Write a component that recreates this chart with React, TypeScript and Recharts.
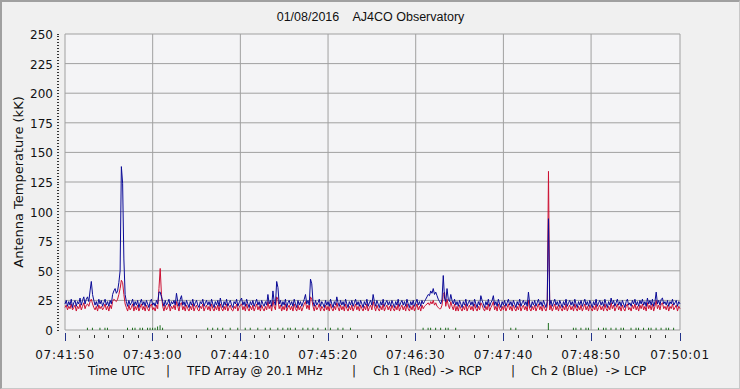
import React from 'react';
import { ComposedChart, Line, Bar, XAxis, YAxis, CartesianGrid } from 'recharts';

// one sample per second from 07:41:50 UTC (t = seconds)
// Ch 1 (Red) -> RCP, kK
const ch1Red = [
  19, 21, 17, 20, 18, 22, 17, 19, 21, 16, 20, 18, 22, 17, 20, 23, 18, 21, 22, 20,
  24, 26, 22, 19, 17, 20, 16, 21, 18, 20, 17, 19, 22, 17, 20, 16, 21, 18, 24, 26,
  25, 24, 26, 30, 35, 42, 40, 30, 22, 19, 16, 21, 17, 19, 22, 16, 20, 17, 21, 16,
  19, 22, 17, 20, 16, 21, 18, 16, 20, 22, 17, 19, 16, 21, 18, 35, 52, 30, 20, 16,
  21, 17, 19, 22, 16, 20, 18, 21, 17, 24, 20, 16, 22, 23, 17, 20, 16, 21, 18, 16,
  20, 17, 22, 16, 19, 21, 17, 16, 20, 18, 22, 16, 19, 21, 17, 20, 16, 22, 18, 16,
  20, 17, 21, 16, 22, 18, 16, 20, 17, 22, 16, 19, 21, 17, 16, 20, 18, 22, 16, 19,
  21, 22, 17, 20, 16, 22, 18, 16, 20, 17, 21, 16, 19, 22, 17, 20, 16, 21, 18, 16,
  20, 17, 24, 18, 21, 16, 25, 20, 17, 28, 26, 18, 21, 16, 20, 17, 22, 16, 19, 21,
  17, 20, 16, 22, 18, 16, 21, 17, 20, 16, 19, 22, 24, 18, 21, 17, 28, 26, 20, 16,
  21, 17, 19, 22, 16, 20, 18, 16, 21, 17, 20, 16, 22, 18, 16, 20, 17, 23, 19, 16,
  21, 17, 20, 16, 22, 18, 16, 20, 17, 21, 16, 19, 22, 17, 20, 16, 21, 18, 16, 20,
  17, 22, 16, 19, 21, 17, 24, 20, 16, 21, 18, 16, 20, 17, 22, 16, 19, 21, 17, 20,
  16, 21, 18, 16, 20, 17, 22, 16, 19, 21, 17, 20, 16, 22, 18, 16, 20, 17, 21, 16,
  19, 22, 17, 20, 16, 21, 18, 20, 21, 22, 23, 21, 24, 22, 25, 21, 23, 20, 19, 18,
  18, 21, 30, 32, 20, 26, 21, 18, 24, 20, 17, 22, 16, 20, 16, 21, 18, 16, 20, 17,
  22, 16, 19, 21, 17, 20, 16, 22, 18, 16, 20, 17, 23, 21, 18, 16, 20, 17, 22, 16,
  19, 21, 24, 17, 20, 16, 22, 18, 16, 20, 17, 21, 16, 19, 22, 17, 20, 16, 21, 18,
  16, 20, 17, 22, 16, 19, 21, 17, 20, 16, 25, 18, 16, 20, 17, 21, 16, 19, 22, 17,
  20, 16, 21, 18, 16, 20, 134, 17, 21, 16, 19, 22, 17, 20, 16, 21, 18, 16, 20, 17,
  22, 16, 19, 21, 17, 20, 16, 22, 18, 16, 20, 17, 21, 16, 19, 22, 17, 20, 16, 21,
  18, 16, 20, 17, 22, 16, 19, 21, 17, 20, 16, 22, 18, 16, 20, 17, 23, 18, 21, 16,
  19, 22, 17, 20, 16, 21, 18, 16, 20, 22, 17, 19, 16, 21, 18, 22, 17, 20, 16, 21,
  18, 22, 17, 20, 16, 23, 18, 21, 17, 22, 16, 20, 25, 18, 21, 17, 22, 23, 18, 20,
  17, 21, 16, 20, 18, 22, 17, 19, 21, 16, 20, 18,
];

// Ch 2 (Blue) -> LCP, kK
const ch2Blue = [
  22, 25, 20, 24, 21, 26, 19, 23, 25, 20, 24, 22, 27, 21, 25, 28, 22, 26, 28, 24,
  33, 41, 30, 25, 21, 24, 20, 26, 22, 25, 20, 23, 26, 21, 24, 20, 25, 22, 30, 33,
  35, 31, 33, 40, 50, 138, 124, 60, 30, 24, 20, 25, 21, 23, 26, 20, 24, 21, 25, 19,
  23, 26, 21, 24, 20, 25, 22, 19, 24, 26, 21, 23, 20, 25, 22, 32, 32, 28, 24, 20,
  25, 21, 23, 26, 20, 24, 22, 25, 21, 31, 24, 20, 26, 29, 21, 24, 20, 25, 22, 19,
  24, 21, 26, 20, 23, 25, 21, 19, 24, 22, 26, 20, 23, 25, 21, 24, 20, 26, 22, 19,
  24, 21, 25, 20, 27, 22, 19, 24, 21, 26, 20, 23, 25, 21, 19, 24, 22, 26, 20, 23,
  25, 27, 21, 24, 20, 26, 22, 19, 24, 21, 25, 20, 23, 26, 21, 24, 19, 25, 22, 20,
  24, 21, 30, 22, 25, 20, 33, 24, 21, 41, 36, 22, 25, 20, 24, 21, 26, 19, 23, 25,
  21, 24, 20, 26, 22, 19, 25, 21, 24, 20, 23, 26, 30, 22, 25, 21, 43, 39, 24, 20,
  25, 21, 23, 26, 20, 24, 22, 19, 25, 21, 24, 20, 26, 22, 19, 24, 21, 28, 23, 20,
  25, 21, 24, 20, 26, 22, 19, 24, 21, 25, 20, 23, 26, 21, 24, 20, 25, 22, 19, 24,
  21, 26, 20, 23, 25, 21, 30, 24, 20, 25, 22, 19, 24, 21, 26, 20, 23, 25, 21, 24,
  20, 25, 22, 19, 24, 21, 26, 20, 23, 25, 21, 24, 20, 26, 22, 19, 24, 21, 25, 20,
  23, 26, 21, 24, 20, 25, 22, 24, 26, 28, 30, 29, 33, 31, 35, 30, 32, 29, 26, 24,
  22, 26, 46, 27, 24, 35, 26, 24, 30, 25, 22, 26, 21, 24, 20, 25, 22, 19, 24, 21,
  26, 20, 23, 25, 21, 24, 20, 26, 22, 19, 24, 21, 29, 25, 22, 19, 24, 21, 26, 20,
  23, 25, 29, 21, 24, 20, 26, 22, 19, 24, 21, 25, 20, 23, 26, 21, 24, 20, 25, 22,
  19, 24, 21, 26, 20, 23, 25, 21, 24, 20, 32, 22, 19, 24, 21, 25, 20, 23, 26, 21,
  24, 20, 25, 22, 19, 24, 94, 21, 25, 20, 23, 26, 21, 24, 20, 25, 22, 19, 24, 21,
  26, 20, 23, 25, 21, 24, 20, 26, 22, 19, 24, 21, 25, 20, 23, 26, 21, 24, 20, 25,
  22, 19, 24, 21, 26, 20, 23, 25, 21, 24, 20, 26, 22, 19, 24, 21, 27, 22, 25, 20,
  23, 26, 21, 24, 20, 25, 22, 19, 24, 26, 21, 23, 20, 25, 22, 26, 21, 24, 20, 25,
  22, 26, 21, 24, 20, 27, 22, 25, 21, 26, 20, 24, 32, 22, 25, 21, 26, 27, 22, 24,
  21, 25, 20, 24, 22, 26, 21, 23, 25, 20, 24, 22,
];

// third channel, every 2 s, kK
const ch3Green = [
  0, 0, 0, 0, 0, 0, 0, 0, 0, 2, 0, 2, 0, 0, 2, 0, 2, 2, 0, 0,
  0, 0, 0, 0, 0, 2, 0, 2, 2, 0, 2, 2, 0, 2, 2, 2, 2, 3, 4, 2,
  0, 0, 0, 0, 0, 0, 0, 0, 0, 0, 0, 0, 0, 0, 0, 0, 0, 2, 0, 2,
  0, 2, 0, 2, 0, 0, 2, 0, 0, 2, 0, 0, 2, 0, 2, 0, 0, 2, 0, 0,
  2, 0, 2, 0, 0, 2, 0, 2, 0, 2, 2, 0, 2, 0, 0, 2, 0, 2, 0, 2,
  0, 2, 0, 0, 2, 0, 2, 0, 0, 2, 0, 2, 0, 0, 2, 0, 0, 0, 0, 0,
  0, 0, 0, 0, 0, 0, 0, 0, 0, 0, 0, 0, 0, 0, 0, 0, 0, 0, 0, 0,
  0, 0, 0, 2, 0, 2, 2, 0, 2, 0, 2, 0, 2, 2, 0, 0, 2, 0, 0, 0,
  0, 0, 0, 0, 0, 0, 0, 0, 0, 0, 0, 0, 0, 0, 0, 0, 0, 0, 2, 0,
  2, 0, 0, 0, 0, 0, 0, 0, 0, 0, 0, 0, 0, 6, 0, 0, 0, 0, 0, 0,
  0, 0, 0, 2, 2, 0, 2, 0, 2, 2, 0, 0, 0, 2, 0, 2, 2, 0, 2, 0,
  2, 0, 2, 2, 0, 0, 2, 0, 2, 2, 0, 2, 0, 2, 2, 0, 2, 0, 2, 0,
  2, 2, 0, 2, 0, 0,
];

const xTickSeconds = [0, 70, 140, 210, 280, 350, 420, 491];
const xTickLabels = ['07:41:50', '07:43:00', '07:44:10', '07:45:20', '07:46:30', '07:47:40', '07:48:50', '07:50:01'];
const yTickValues = [0, 25, 50, 75, 100, 125, 150, 175, 200, 225, 250];

const data = ch2Blue.map((b, i) => ({
  t: i,
  red: ch1Red[i],
  blue: b,
  green: i % 2 === 0 ? ch3Green[i / 2] : undefined,
}));

// minor ticks: 6 steps between x labels, 2.5 kK steps on y
const xTicks: number[] = [];
xTickSeconds.forEach((v, i) => {
  xTicks.push(v);
  const next = xTickSeconds[i + 1];
  if (next === undefined) return;
  for (let k = 1; k < 6; k++) xTicks.push(v + ((next - v) * k) / 6);
});
const yTicks: number[] = [];
for (let v = 0; v <= 250; v += 2.5) yTicks.push(v);

const FONT = '"DejaVu Sans", Verdana, sans-serif';

const XTick = (props: any) => {
  const { x, y, payload } = props;
  const idx = xTickSeconds.indexOf(payload.value);
  const major = idx >= 0;
  return (
    <g>
      <line
        x1={x} x2={x}
        y1={y + (major ? 3 : 5)} y2={y + (major ? 11 : 8)}
        stroke={major ? '#22338a' : '#333'}
        shapeRendering="crispEdges"
      />
      {major && (
        <text x={x} y={y + 29} textAnchor="middle" fontSize={12} fontFamily={FONT} fill="#111" letterSpacing={0.7}>
          {xTickLabels[idx]}
        </text>
      )}
    </g>
  );
};

const YTick = (props: any) => {
  const { x, y, payload } = props;
  const major = yTickValues.includes(payload.value);
  return (
    <g>
      <line x1={x - 8} x2={x - 6} y1={y} y2={y} stroke="#333" shapeRendering="crispEdges" />
      {major && (
        <text x={x - 12} y={y + 5} textAnchor="end" fontSize={12} fontFamily={FONT} fill="#111">
          {payload.value}
        </text>
      )}
    </g>
  );
};

const captionParts = [
  { text: 'Time UTC', left: 88 },
  { text: '|', left: 166 },
  { text: 'TFD Array @ 20.1 MHz', left: 187 },
  { text: '|', left: 352 },
  { text: 'Ch 1 (Red) -> RCP', left: 373 },
  { text: '|', left: 511 },
  { text: 'Ch 2 (Blue)  -> LCP', left: 531 },
];

export default function App() {
  return (
    <div
      style={{
        position: 'absolute', left: 0, top: 0, width: 740, height: 389,
        boxSizing: 'border-box', background: '#f0f0f0',
        borderTop: '2px solid #a0a0a0', borderLeft: '2px solid #a0a0a0',
        borderRight: '1px solid #c8c8c8', borderBottom: '1px solid #c8c8c8',
        fontFamily: FONT, color: '#111', overflow: 'hidden',
      }}
    >
      <div style={{ position: 'absolute', left: -2, top: -2 }}>
        <ComposedChart width={740} height={389} data={data} margin={{ top: 34, right: 60, bottom: 0, left: 0 }}>
          <CartesianGrid
            stroke="#a0a0a0"
            fill="#f4f4f6"
            fillOpacity={1}
            horizontalValues={yTickValues}
            verticalValues={xTickSeconds}
          />
          <XAxis
            dataKey="t" type="number" domain={[0, 491]} ticks={xTicks} interval={0}
            height={59} axisLine={false} tickLine={false} tickSize={0} tickMargin={0}
            tick={<XTick />}
          />
          <YAxis
            type="number" domain={[0, 250]} ticks={yTicks} interval={0}
            width={65} axisLine={false} tickLine={false} tickSize={0} tickMargin={0}
            tick={<YTick />}
          />
          <Bar dataKey="green" fill="#1e6e1e" barSize={1} isAnimationActive={false} />
          <Line dataKey="red" stroke="#cc1133" strokeWidth={1} dot={false} isAnimationActive={false} />
          <Line dataKey="blue" stroke="#0a0a96" strokeWidth={1} dot={false} isAnimationActive={false} />
        </ComposedChart>
      </div>
      <div style={{ position: 'absolute', left: 61, width: 615, top: 8, textAlign: 'center', fontSize: 12.5, fontFamily: '"Liberation Sans", Arial, sans-serif', whiteSpace: 'pre' }}>
        {'01/08/2016    AJ4CO Observatory'}
      </div>
      <div style={{ position: 'absolute', left: 16, top: 180, width: 0, height: 0 }}>
        <div style={{ position: 'absolute', transform: 'translate(-50%, -50%) rotate(-90deg)', whiteSpace: 'nowrap', fontSize: 13 }}>
          Antenna Temperature (kK)
        </div>
      </div>
      {captionParts.map((p) => (
        <div key={p.left} style={{ position: 'absolute', left: p.left - 2, top: 362, fontSize: 12, whiteSpace: 'pre' }}>
          {p.text}
        </div>
      ))}
    </div>
  );
}
